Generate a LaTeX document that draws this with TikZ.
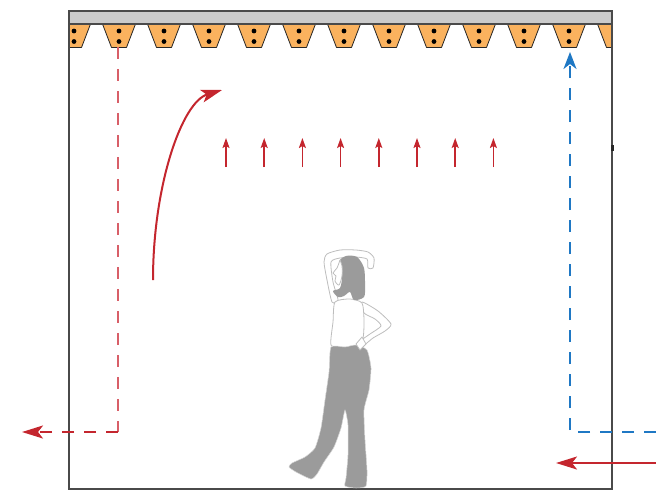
\documentclass[tikz,border=0pt]{standalone}
\usepackage{tikz}
\usetikzlibrary{arrows.meta}
\definecolor{flowRed}{HTML}{C4262E}
\definecolor{flowPink}{HTML}{D85F68}
\definecolor{flowBlue}{HTML}{1F78C4}
\definecolor{diffOrange}{HTML}{FAB25E}
\definecolor{ceilGrey}{HTML}{CBCBCB}
\definecolor{wallGrey}{HTML}{4A4A4A}
\definecolor{bodyGrey}{HTML}{9B9B9B}
\definecolor{lineGrey}{HTML}{BDBDBD}

\begin{document}
\begin{tikzpicture}[x=1pt,y=-1pt,
  wall/.style={wallGrey, line width=1.6pt},
  flowdash/.style={line width=2pt, dash pattern=on 12pt off 10pt},
  bigtip/.style={-{Stealth[length=21pt,width=13pt,inset=5pt]}},
  uptip/.style={-{Stealth[length=17pt,width=13pt,inset=5pt]}},
  smalltip/.style={-{Stealth[length=10pt,width=7pt,inset=2pt]}},
  outline/.style={draw=lineGrey, line width=0.8pt, fill=white, line join=round},
  body/.style={fill=bodyGrey, draw=lineGrey!60, line width=0.5pt},
]
\useasboundingbox (0,0) rectangle (656,491);

% diffusers under the ceiling
\begin{scope}
  \clip (69,0) rectangle (612,60);
  \foreach \c in {0,...,12} {
    \pgfmathsetmacro\xc{74+45*\c}
    \draw[fill=diffOrange, draw=black!85, line width=0.8pt, line join=round]
      (\xc-16.5,24) -- (\xc-7.5,47.5) -- (\xc+7.5,47.5) -- (\xc+16.5,24);
    \fill (\xc,31) circle[radius=2.4pt] (\xc,41.5) circle[radius=2.4pt];
  }
\end{scope}
\draw[wallGrey, line width=1.2pt, fill=ceilGrey] (69,11) rectangle (612,24);

% room
\draw[wall] (69,24) -- (69,489) -- (612,489) -- (612,24);
\fill[black!85] (610.5,145) rectangle (613.5,151);

% person
\draw[outline] plot[smooth cycle, tension=0.4] coordinates {(332,302) (327,280) (324,262) (327,254) (340,250) (356,250) (368,252) (374,258) (373,268) (368,268) (367,259) (355,257) (340,258) (331,262) (333,282) (338,300)};
\draw[outline] plot[smooth cycle, tension=0.4] coordinates {(362,302) (378,311) (391,324) (385,331) (373,338) (364,345) (359,342) (370,334) (381,326) (375,319) (364,313)};
\draw[outline] plot[smooth cycle, tension=0.4] coordinates {(335,302) (333,322) (331,345) (343,348) (356,346) (363,338) (364,320) (362,303) (350,299)};
\fill[bodyGrey] plot[smooth cycle, tension=0.5] coordinates {(339,262) (346,256) (357,257) (364,268) (365,285) (364,297) (354,300) (350,292) (344,296) (338,297) (333,291) (340,288) (342,276)};
\draw[outline] plot[smooth, tension=0.5] coordinates {(340,260) (337,268) (333,273) (336,276) (335,281) (339,285) (342,276) (342,266) (340,260)};
\draw[body] plot[smooth cycle, tension=0.35] coordinates {(331,347) (329,372) (325,400) (321,428) (315,448) (305,457) (292,463) (289,467) (296,472) (311,479) (317,474) (324,462) (334,447) (341,428) (345,410) (348,425) (348,455) (346,478) (345,486) (356,488) (366,486) (367,470) (365,440) (364,410) (369,390) (371,368) (367,350) (356,345) (345,347)};
\draw[outline] (356,344) -- (362,337) -- (366,344) -- (360,350) -- cycle;

% air paths
\coordinate (exhTop) at (118,47);
\coordinate (exhCorner) at (118,432);
\coordinate (exhOut) at (22,432);
\draw[flowPink, flowdash] (exhTop) -- (exhCorner);
\draw[flowRed, flowdash, bigtip] (exhCorner) -- (exhOut);

\coordinate (retIn) at (656,432);
\coordinate (retCorner) at (570,432);
\coordinate (retTop) at (570,52);
\draw[flowBlue, flowdash, uptip] (retIn) -- (retCorner) -- (retTop);

\coordinate (supIn) at (656,463);
\coordinate (supEnd) at (556,463);
\draw[flowRed, line width=2pt, bigtip] (supIn) -- (supEnd);

\coordinate (swirlStart) at (153,280);
\coordinate (swirlEnd) at (222,90);
\draw[flowRed, line width=2pt, bigtip] (swirlStart) .. controls (153,185) and (182,102) .. (swirlEnd);

\foreach \i in {0,...,7}
  \draw[flowRed, line width=1.6pt, smalltip] (226+38.2*\i,167) -- (226+38.2*\i,138);
\end{tikzpicture}
\end{document}
